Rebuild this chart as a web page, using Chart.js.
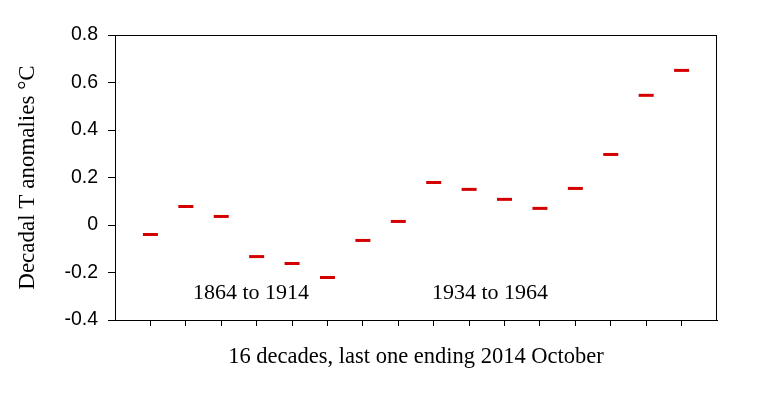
<!DOCTYPE html>
<html>
<head>
<meta charset="utf-8">
<script src="https://cdn.jsdelivr.net/npm/chart.js@4.4.0/dist/chart.umd.min.js"></script>
<style>
  html, body { margin: 0; padding: 0; background: #fff; }
  #wrap { width: 762px; height: 397px; position: relative; }
</style>
</head>
<body>
<div id="wrap"><canvas id="myChart"></canvas></div>
<script>
// decade index (1..16) and decadal anomaly
var decades = [1, 2, 3, 4, 5, 6, 7, 8, 9, 10, 11, 12, 13, 14, 15, 16];
var anomalies = [-0.04, 0.078, 0.036, -0.133, -0.162, -0.221, -0.065, 0.015,
                 0.179, 0.15, 0.108, 0.07, 0.154, 0.297, 0.546, 0.651];

var yTicks = [-0.4, -0.2, 0, 0.2, 0.4, 0.6, 0.8];

var noteLabels = ["1864 to 1914", "1934 to 1964"];
var noteX = [3.84, 10.59];
var noteY = [-0.289, -0.289];

var serif = "'Liberation Serif', 'Times New Roman', serif";

// box round the plot + the two period labels
var framePlugin = {
    id: "frame",
    afterDraw: function (chart) {
        var c = chart.ctx;
        var a = chart.chartArea;
        c.save();
        c.strokeStyle = "#000";
        c.lineWidth = 1;
        c.strokeRect(Math.round(a.left) + 0.5, Math.round(a.top) + 0.5,
                     Math.round(a.right - a.left) - 1, Math.round(a.bottom - a.top));
        c.fillStyle = "#000";
        c.font = "22px " + serif;
        c.textAlign = "center";
        c.textBaseline = "middle";
        for (var i = 0; i < noteLabels.length; i++) {
            c.fillText(noteLabels[i],
                chart.scales.x.getPixelForValue(noteX[i]),
                chart.scales.y.getPixelForValue(noteY[i]));
        }
        c.restore();
    }
};

var ctx = document.getElementById("myChart").getContext("2d");
var myChart = new Chart(ctx, {
    type: "line",
    data: {
        datasets: [{
            label: "Decadal T anomalies",
            data: decades.map(function (d, i) { return { x: d, y: anomalies[i] }; }),
            showLine: false,
            pointStyle: "line",
            pointRadius: 7.5,
            pointHoverRadius: 7.5,
            borderWidth: 3,
            pointBorderWidth: 3,
            borderColor: "rgb(212, 0, 0)",
            backgroundColor: "rgb(212, 0, 0)"
        }]
    },
    options: {
        responsive: true,
        maintainAspectRatio: false,
        animation: false,
        events: [],
        layout: { padding: { left: 0, top: 35, right: 45, bottom: 0 } },
        plugins: {
            legend: { display: false },
            tooltip: { enabled: false }
        },
        scales: {
            x: {
                type: "linear",
                min: 0,
                max: 17,
                afterBuildTicks: function (scale) {
                    scale.ticks = decades.map(function (d) { return { value: d }; });
                },
                afterFit: function (scale) { scale.height = 77; },
                ticks: { display: false },
                grid: {
                    drawOnChartArea: false,
                    drawTicks: true,
                    tickLength: 6,
                    color: "#000",
                    lineWidth: 1
                },
                border: { display: true, color: "#000", width: 1 },
                title: {
                    display: true,
                    text: "16 decades, last one ending 2014 October",
                    color: "#000",
                    font: { family: serif, size: 22.5 },
                    padding: { top: 0, bottom: 26 }
                }
            },
            y: {
                type: "linear",
                min: -0.4,
                max: 0.8,
                afterBuildTicks: function (scale) {
                    scale.ticks = yTicks.map(function (v) { return { value: v }; });
                },
                afterFit: function (scale) { scale.width = 115; },
                ticks: {
                    color: "#000",
                    padding: 10,
                    font: { family: "'Liberation Sans', Arial, sans-serif", size: 19.5 },
                    callback: function (v) {
                        return Math.abs(v) < 1e-9 ? "0" : v.toFixed(1);
                    }
                },
                grid: {
                    drawOnChartArea: false,
                    drawTicks: true,
                    tickLength: 7,
                    color: "#000",
                    lineWidth: 1
                },
                border: { display: true, color: "#000", width: 1 },
                title: {
                    display: true,
                    text: "Decadal T anomalies \u00B0C",
                    color: "#000",
                    font: { family: serif, size: 23 },
                    padding: { top: 14, bottom: 0 }
                }
            }
        }
    },
    plugins: [framePlugin]
});
</script>
</body>
</html>
